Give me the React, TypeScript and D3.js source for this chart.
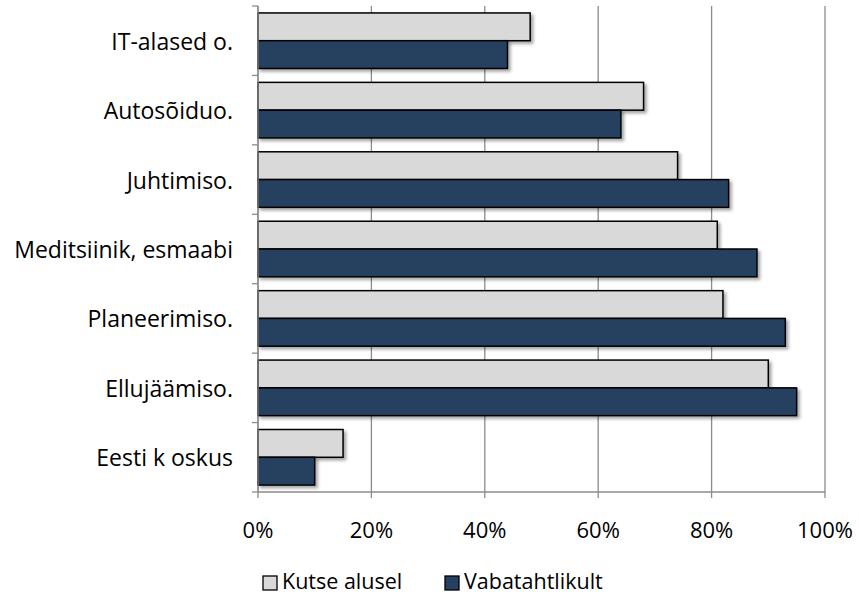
import React from "react";
import * as d3 from "d3";

const categories = [
  "IT-alased o.",
  "Autosõiduo.",
  "Juhtimiso.",
  "Meditsiinik, esmaabi",
  "Planeerimiso.",
  "Ellujäämiso.",
  "Eesti k oskus",
];
const kutseAlusel = [48, 68, 74, 81, 82, 90, 15];
const vabatahtlikult = [44, 64, 83, 88, 93, 95, 10];
const seriesNames = ["Kutse alusel", "Vabatahtlikult"];
const seriesColors = ["#d9d9d9", "#264061"];
const xTicks = [0, 20, 40, 60, 80, 100];

const W = 859;
const H = 596;
const margin = { left: 258, right: 34, top: 6, bottom: 104 };
const FONT = "'Open Sans', Lato, sans-serif";

export default function App() {
  const x = d3.scaleLinear().domain([0, 100]).range([margin.left, W - margin.right]);
  const y = d3
    .scaleBand<string>()
    .domain(categories)
    .range([margin.top, H - margin.bottom])
    .paddingInner(0.2)
    .paddingOuter(0.1);
  const inner = d3.scaleBand<number>().domain([0, 1]).range([0, y.bandwidth()]);
  const series = [kutseAlusel, vabatahtlikult];
  const plotTop = margin.top;
  const plotBottom = H - margin.bottom;
  const grid = "#8c8c8c";
  const legendX = [263, 445];

  return (
    <svg
      width={W}
      height={H}
      style={{ position: "absolute", left: 0, top: 0, background: "#fff" }}
      fontFamily={FONT}
    >
      <defs>
        <filter id="shadow" x="-5%" y="-20%" width="115%" height="160%">
          <feDropShadow dx="2.5" dy="2.5" stdDeviation="1.8" floodColor="#000" floodOpacity="0.35" />
        </filter>
      </defs>
      {xTicks.map((t) => (
        <line
          key={"g" + t}
          x1={x(t)}
          x2={x(t)}
          y1={plotTop}
          y2={plotBottom + 6}
          stroke={grid}
          strokeWidth={1.3}
        />
      ))}
      <line x1={x(0)} x2={x(100)} y1={plotBottom} y2={plotBottom} stroke={grid} strokeWidth={1.3} />
      {d3.range(categories.length + 1).map((i) => {
        const yy = plotTop + ((plotBottom - plotTop) / categories.length) * i;
        return (
          <line key={"yt" + i} x1={x(0) - 6} x2={x(0)} y1={yy} y2={yy} stroke={grid} strokeWidth={1.3} />
        );
      })}
      {categories.map((c, ci) =>
        series.map((s, si) => (
          <rect
            key={c + si}
            x={x(0)}
            y={(y(c) as number) + (inner(si) as number)}
            width={x(s[ci]) - x(0)}
            height={inner.bandwidth()}
            fill={seriesColors[si]}
            stroke="#000"
            strokeWidth={1.5}
            filter="url(#shadow)"
          />
        ))
      )}
      <line x1={x(0)} x2={x(0)} y1={plotTop} y2={plotBottom} stroke={grid} strokeWidth={1.3} />
      {categories.map((c) => (
        <text
          key={"l" + c}
          x={x(0) - 25}
          y={(y(c) as number) + y.bandwidth() / 2}
          textAnchor="end"
          dominantBaseline="central"
          fontSize={23}
          fill="#000"
        >
          {c}
        </text>
      ))}
      {xTicks.map((t) => (
        <text
          key={"xl" + t}
          x={x(t)}
          y={plotBottom + 37}
          textAnchor="middle"
          dominantBaseline="central"
          fontSize={22}
          fill="#000"
        >
          {t + "%"}
        </text>
      ))}
      {seriesNames.map((n, i) => {
        const lx = legendX[i];
        return (
          <g key={"lg" + n}>
            <rect x={lx} y={576} width={14} height={14} fill={seriesColors[i]} stroke="#000" strokeWidth={1.3} />
            <text x={lx + 19} y={589} fontSize={21.5} fill="#000">
              {n}
            </text>
          </g>
        );
      })}
    </svg>
  );
}
